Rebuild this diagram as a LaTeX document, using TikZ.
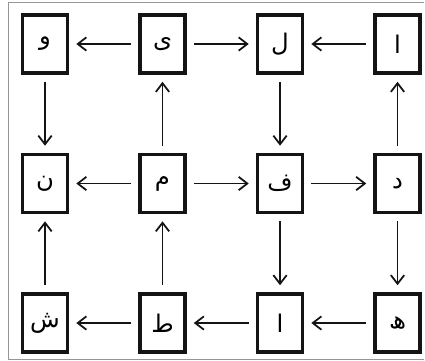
\documentclass[tikz,border=0pt]{standalone}
\usepackage{fontspec}
\usepackage{tikz}
\usetikzlibrary{arrows.meta, positioning}
\newfontfamily\arabicfont[Script=Arabic]{DejaVu Sans}
\TeXXeTstate=1
\definecolor{mydark}{RGB}{20,20,20}
\definecolor{myframe}{RGB}{150,150,150}
\tikzset{
  letterbox/.style={rectangle, draw=mydark, fill=white,
    minimum width=1.35cm, minimum height=1.74cm,
    font=\arabicfont\huge, line width=3pt, inner sep=0pt},
  arrow/.style={-{Straight Barb[length=2.6mm, width=4mm]}, line width=1.5pt,
    color=mydark, shorten >=6pt, shorten <=6pt}
}
\newcommand{\ar}[1]{\beginR #1\endR}

\begin{document}
\begin{tikzpicture}[node distance=2.34cm and 2.07cm]
  \useasboundingbox (0,0) rectangle (12.75,-10.83);
  \draw[myframe, line width=0.8pt] (12.72,-0.06) -- (0.24,-0.06) -- (0.24,-10.77) -- (12.72,-10.77);
  % top row
  \node[letterbox] (waw) at (1.35,-1.32) {\ar{و}};
  \node[letterbox, right=of waw] (ye) {\ar{ی}};
  \node[letterbox, right=of ye] (lam) {\ar{ل}};
  \node[letterbox, right=of lam] (alif) {\ar{ا}};
  % middle row
  \node[letterbox, below=of waw] (nun) {\ar{ن}};
  \node[letterbox, right=of nun] (mim) {\ar{م}};
  \node[letterbox, right=of mim] (fe) {\ar{ف}};
  \node[letterbox, right=of fe] (dal) {\ar{د}};
  % bottom row
  \node[letterbox, below=of nun] (shin) {\ar{ش}};
  \node[letterbox, right=of shin] (toe) {\ar{ط}};
  \node[letterbox, right=of toe] (alifb) {\ar{ا}};
  \node[letterbox, right=of alifb] (he) {\ar{ھ}};
  % horizontal
  \draw[arrow] (ye) -- (waw);
  \draw[arrow] (ye) -- (lam);
  \draw[arrow] (alif) -- (lam);
  \draw[arrow] (mim) -- (nun);
  \draw[arrow] (mim) -- (fe);
  \draw[arrow] (fe) -- (dal);
  \draw[arrow] (he) -- (alifb);
  \draw[arrow] (alifb) -- (toe);
  \draw[arrow] (toe) -- (shin);
  % vertical
  \draw[arrow] (waw) -- (nun);
  \draw[arrow] (mim) -- (ye);
  \draw[arrow] (lam) -- (fe);
  \draw[arrow] (dal) -- (alif);
  \draw[arrow] (shin) -- (nun);
  \draw[arrow] (toe) -- (mim);
  \draw[arrow] (fe) -- (alifb);
  \draw[arrow] (dal) -- (he);
\end{tikzpicture}
\end{document}
